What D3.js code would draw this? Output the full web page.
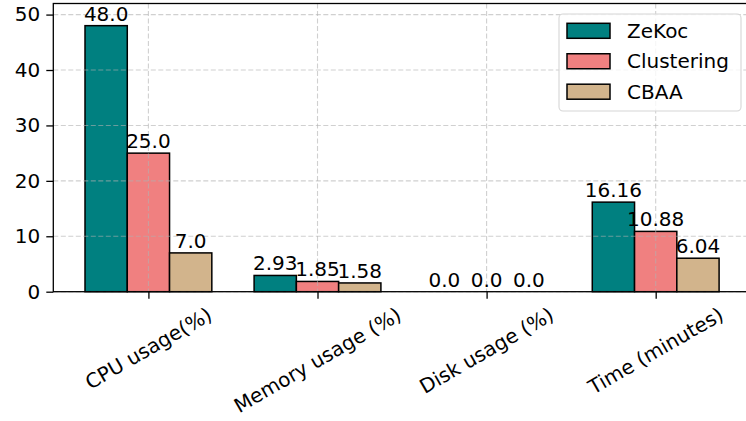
<!DOCTYPE html>
<html>
<head>
<meta charset="utf-8">
<script src="https://cdn.jsdelivr.net/npm/d3@7"></script>
<style>
  html, body { margin: 0; padding: 0; background: #fff; }
  svg { display: block; font-family: "DejaVu Sans", sans-serif; }
</style>
</head>
<body>
<svg id="chart" width="746" height="421"></svg>
<script>
// Resource usage per method
const categories = ["CPU usage(%)", "Memory usage (%)", "Disk usage (%)", "Time (minutes)"];
const seriesNames = ["ZeKoc", "Clustering", "CBAA"];
const zekoc = [48.0, 2.93, 0.0, 16.16];
const clustering = [25.0, 1.85, 0.0, 10.88];
const cbaa = [7.0, 1.58, 0.0, 6.04];
const yTicks = [0, 10, 20, 30, 40, 50];
const colors = ["#008080", "#f08080", "#d2b48c"];

const series = [zekoc, clustering, cbaa];
const barWidth = 0.25;
const fontSize = 20;

const svg = d3.select("#chart");
const plot = { left: 53.3, right: 750.8, top: 3.5, bottom: 291.7 };

const x = d3.scaleLinear().domain([-0.5625, 3.5625]).range([plot.left, plot.right]);
const y = d3.scaleLinear().domain([0, 52]).range([plot.bottom, plot.top]);

const fmt = v => Number.isInteger(v) ? v.toFixed(1) : String(v);

// Bars
series.forEach((vals, si) => {
  const off = (si - 1) * barWidth;
  svg.append("g").selectAll("rect").data(vals).join("rect")
    .attr("x", (d, i) => x(i + off - barWidth / 2))
    .attr("width", x(barWidth) - x(0))
    .attr("y", d => y(d))
    .attr("height", d => y(0) - y(d))
    .attr("fill", colors[si])
    .attr("stroke", "#000")
    .attr("stroke-width", 1.5);
});

// Grid (drawn over the bars)
const grid = svg.append("g")
  .attr("stroke", "#b0b0b0").attr("stroke-opacity", 0.6)
  .attr("stroke-width", 1.1).attr("stroke-dasharray", "5,2.5");
grid.selectAll("line.h").data(yTicks).join("line").attr("class", "h")
  .attr("x1", plot.left).attr("x2", plot.right)
  .attr("y1", d => y(d)).attr("y2", d => y(d));
grid.selectAll("line.v").data(categories).join("line").attr("class", "v")
  .attr("x1", (d, i) => x(i)).attr("x2", (d, i) => x(i))
  .attr("y1", plot.top).attr("y2", plot.bottom);

// Value labels
series.forEach((vals, si) => {
  const off = (si - 1) * barWidth;
  svg.append("g").selectAll("text").data(vals).join("text")
    .attr("x", (d, i) => x(i + off))
    .attr("y", d => y(d) - 5)
    .attr("text-anchor", "middle")
    .attr("font-size", fontSize)
    .attr("fill", "#000")
    .text(d => fmt(d));
});

// Frame
svg.append("rect")
  .attr("x", plot.left).attr("y", plot.top)
  .attr("width", plot.right - plot.left).attr("height", plot.bottom - plot.top)
  .attr("fill", "none").attr("stroke", "#000").attr("stroke-width", 1.3);

// Y axis
const yAxis = svg.append("g")
  .attr("transform", `translate(${plot.left},0)`)
  .call(d3.axisLeft(y).tickValues(yTicks).tickSize(7).tickPadding(6).tickFormat(d3.format("d")));
yAxis.select(".domain").remove();
yAxis.selectAll(".tick line").attr("stroke-width", 1.3);
yAxis.selectAll("text").attr("font-size", fontSize).attr("font-family", "DejaVu Sans, sans-serif").attr("fill", "#000");

// X axis ticks
const xAxis = svg.append("g")
  .attr("transform", `translate(0,${plot.bottom})`)
  .call(d3.axisBottom(x).tickValues(d3.range(categories.length)).tickSize(7).tickFormat(""));
xAxis.select(".domain").remove();
xAxis.selectAll(".tick line").attr("stroke-width", 1.3);

// Rotated category labels, centred on their ticks
const labelTop = plot.bottom + 11;
categories.forEach((c, i) => {
  const g = svg.append("g");
  const t = g.append("text")
    .attr("text-anchor", "middle")
    .attr("dominant-baseline", "central")
    .attr("font-size", fontSize)
    .attr("fill", "#000")
    .attr("transform", "rotate(-30)")
    .text(c);
  const w = t.node().getComputedTextLength();
  const h = fontSize * 1.17;
  const bh = w * Math.sin(Math.PI / 6) + h * Math.cos(Math.PI / 6);
  g.attr("transform", `translate(${x(i)},${labelTop + bh / 2})`);
});

// Legend
const legend = svg.append("g");
legend.append("rect")
  .attr("x", 559).attr("y", 14).attr("width", 182).attr("height", 97)
  .attr("rx", 4).attr("fill", "#fff").attr("fill-opacity", 0.8)
  .attr("stroke", "#d6d6d6").attr("stroke-width", 1.1);
seriesNames.forEach((n, i) => {
  const cy = 30.8 + i * 30.45;
  legend.append("rect")
    .attr("x", 567).attr("y", cy - 7.5).attr("width", 43).attr("height", 15)
    .attr("fill", colors[i]).attr("stroke", "#000").attr("stroke-width", 1.5);
  legend.append("text")
    .attr("x", 627).attr("y", cy + 7)
    .attr("font-size", fontSize).attr("fill", "#000")
    .text(n);
});
</script>
</body>
</html>
